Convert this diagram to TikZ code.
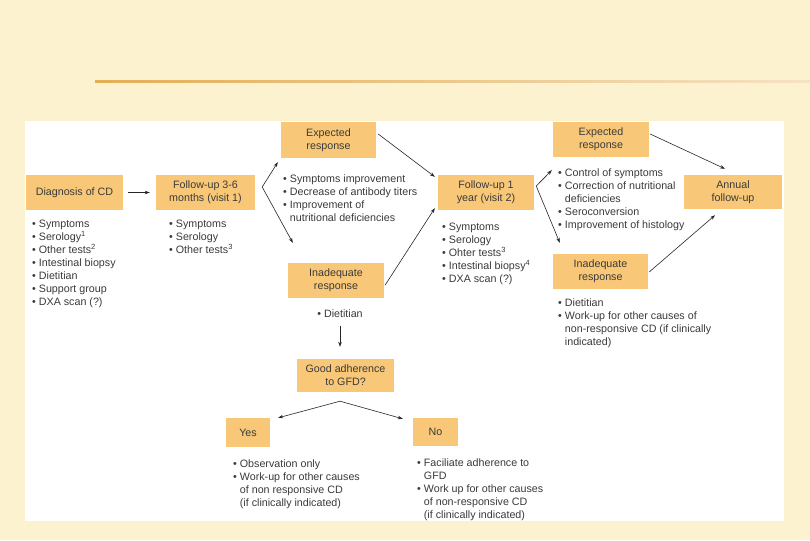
\documentclass[tikz,border=0pt]{standalone}
\usepackage{fontspec}
\setmainfont{Liberation Sans}
\usepackage{tikz}
\usetikzlibrary{calc,positioning,arrows.meta}
\usepackage{xcolor}
\definecolor{Cream}{HTML}{FDF2CF}
\definecolor{Rule}{HTML}{E3AE55}
\definecolor{BoxFill}{HTML}{F8C878}
\definecolor{Ink}{HTML}{3A3A3A}
\newcommand{\bul}{\textbullet\ }
\newcommand{\hang}{\phantom{\textbullet\ }}
\begin{document}
\begin{tikzpicture}[x=1pt,y=-1pt, every node/.style={text=Ink,font=\fontsize{10.7}{13}\selectfont}, box/.style={fill=BoxFill,inner sep=0pt,align=center,minimum width=96pt,minimum height=35pt}, list/.style={anchor=north west,inner sep=0pt,align=left}, arr/.style={-{Stealth[length=5pt,width=3.5pt]},line width=.6pt,black!85}]
\useasboundingbox (0,0) rectangle (810,540);
\fill[Cream] (0,0) rectangle (810,540);
\shade[left color=Rule,right color=Rule!35] (95,81) rectangle (810,83);
\fill[white] (25,121) rectangle (784,521);
\node[box,minimum width=97pt] (diag) at (74.5,192.5) {Diagnosis of CD};
\node[box,minimum width=99pt] (fu1) at (205.5,192.5) {Follow-up 3-6\\months (visit 1)};
\node[box,minimum width=95pt,minimum height=36pt] (exp1) at (328.5,140) {Expected\\response};
\node[box] (inad1) at (336,280.5) {Inadequate\\response};
\node[box] (fu2) at (486,192.5) {Follow-up 1\\year (visit 2)};
\node[box] (exp2) at (601,139.5) {Expected\\response};
\node[box,minimum width=95pt] (inad2) at (600.5,271.5) {Inadequate\\response};
\node[box,minimum width=98pt,minimum height=34pt] (annual) at (733,192) {Annual\\follow-up};
\node[box,minimum width=97pt,minimum height=33pt] (gfd) at (345.5,375.5) {Good adherence\\to GFD?};
\node[box,minimum width=44pt,minimum height=29pt] (yes) at (248,432.5) {Yes};
\node[box,minimum width=45pt,minimum height=28pt] (no) at (435.5,432) {No};
\node[list] (diagL) at (32,220) {\bul Symptoms\\\bul Serology\textsuperscript{1}\\\bul Other tests\textsuperscript{2}\\\bul Intestinal biopsy\\\bul Dietitian\\\bul Support group\\\bul DXA scan (?)};
\node[list] (fu1L) at (169,220) {\bul Symptoms\\\bul Serology\\\bul Other tests\textsuperscript{3}};
\node[list] (exp1L) at (283,175) {\bul Symptoms improvement\\\bul Decrease of antibody titers\\\bul Improvement of\\\hang nutritional deficiencies};
\node[inner sep=0pt] (inad1L) at (340,314) {\bul Dietitian};
\node[list] (fu2L) at (442,223) {\bul Symptoms\\\bul Serology\\\bul Ohter tests\textsuperscript{3}\\\bul Intestinal biopsy\textsuperscript{4}\\\bul DXA scan (?)};
\node[list] (exp2L) at (558,169) {\bul Control of symptoms\\\bul Correction of nutritional\\\hang deficiencies\\\bul Seroconversion\\\bul Improvement of histology};
\node[list] (inad2L) at (558,299) {\bul Dietitian\\\bul Work-up for other causes of\\\hang non-responsive CD (if clinically\\\hang indicated)};
\node[list] (yesL) at (233,460) {\bul Observation only\\\bul Work-up for other causes\\\hang of non responsive CD\\\hang (if clinically indicated)};
\node[list] (noL) at (417,459) {\bul Faciliate adherence to\\\hang GFD\\\bul Work up for other causes\\\hang of non-responsive CD\\\hang (if clinically indicated)};
\coordinate (s1) at ([shift={(7,-5.5)}]fu1.east);
\coordinate (s2) at ([shift={(2,-6.5)}]fu2.east);
\coordinate (s3) at ([shift={(-5.5,9)}]gfd.south);
\draw[arr] ([xshift=5pt]diag.east) -- ([xshift=-6pt]fu1.west);
\draw[arr] (s1) -- ([shift={(-3,4)}]exp1.south west);
\draw[arr] (s1) -- ([shift={(5,-20)}]inad1.north west);
\draw[arr] ([shift={(2,-6)}]exp1.east) -- ([shift={(-3,2)}]fu2.north west);
\draw[arr] ([shift={(1,4.5)}]inad1.east) -- ([shift={(-3,-2)}]fu2.south west);
\draw[arr] (s2) -- ([shift={(-1,13)}]exp2.south west);
\draw[arr] (s2) -- ([shift={(7,-11)}]inad2.north west);
\draw[arr] ([shift={(1,-5.5)}]exp2.east) -- ([shift={(-8,-6)}]annual.north);
\draw[arr] ([shift={(1,0.5)}]inad2.east) -- ([shift={(-18,6)}]annual.south);
\draw[arr] ([shift={(0,8)}]inad1L.south) -- ([shift={(0,-12)}]inad1L.south |- gfd.north);
\draw[arr] (s3) -- ([shift={(8,0)}]yes.north east);
\draw[arr] (s3) -- ([shift={(-10,1)}]no.north west);
\end{tikzpicture}
\end{document}
